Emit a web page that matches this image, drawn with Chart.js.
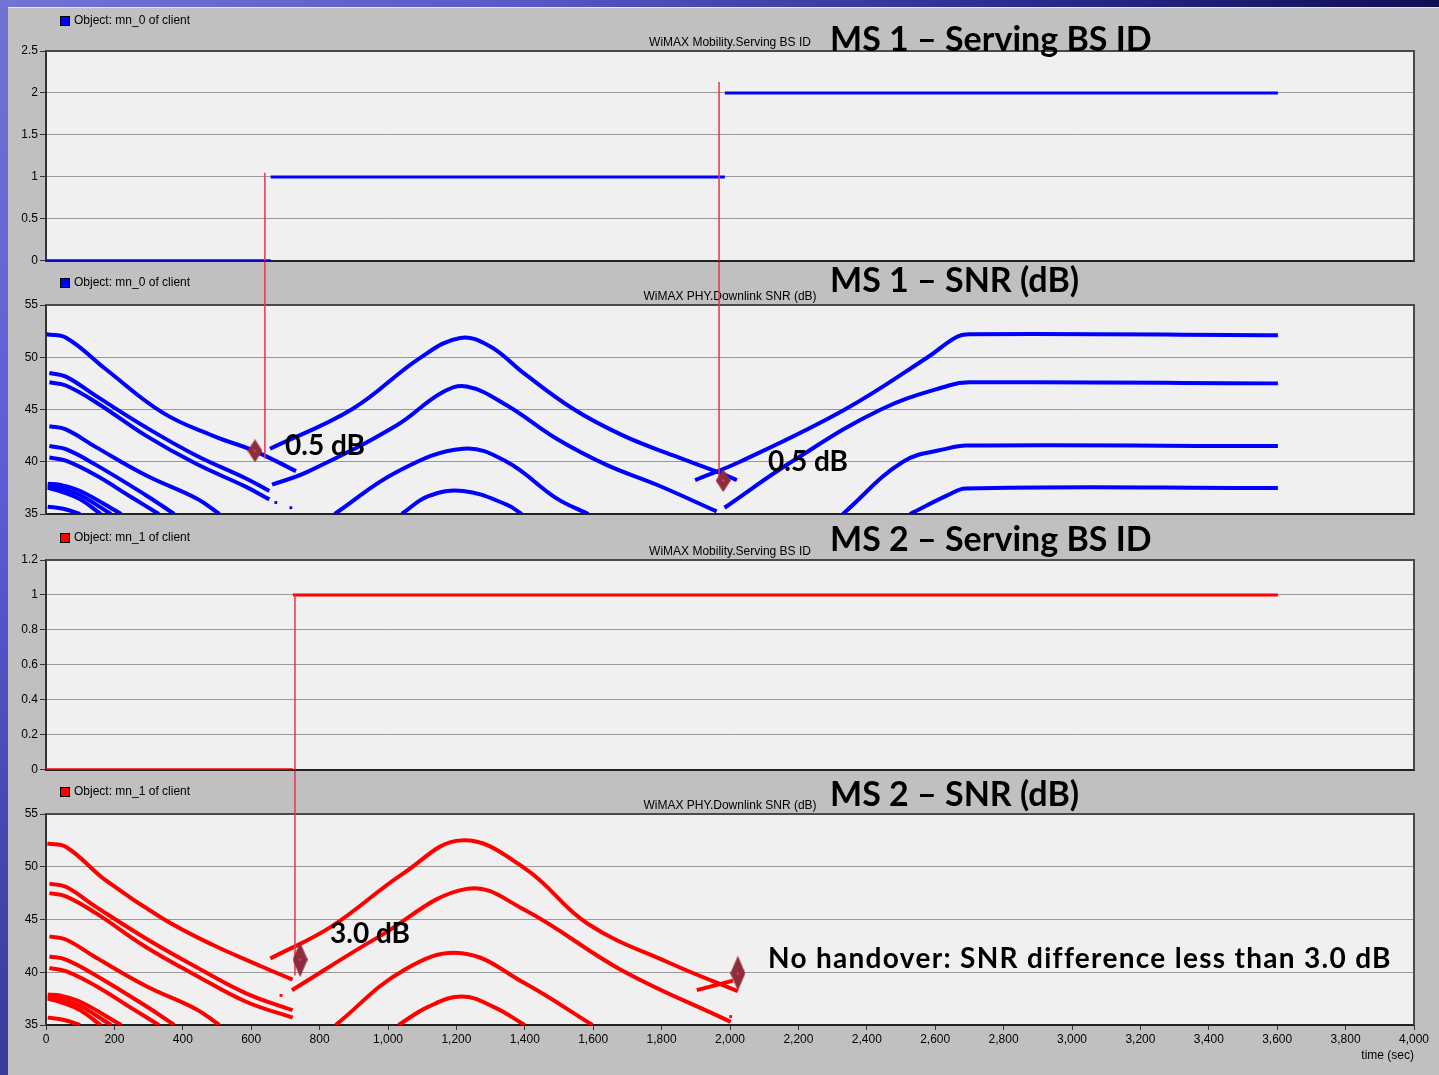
<!DOCTYPE html>
<html lang="en">

<head>
    <meta charset="UTF-8" />
    <title>WiMAX handover - serving BS ID and downlink SNR</title>
    <script src="https://cdn.jsdelivr.net/npm/chart.js@4.4.1/dist/chart.umd.min.js"></script>
    <style>
        html, body { margin: 0; padding: 0; }
        body {
            width: 1439px; height: 1075px; overflow: hidden; position: relative;
            background: linear-gradient(180deg, #7272d2 0%, #5c5cd8 45%, #4848b4 75%, #3a3a9a 100%);
        }
        .topband {
            position: absolute; left: 0; top: 0; width: 1439px; height: 7px;
            background: linear-gradient(90deg, #7474d4 0%, #5a5ac8 35%, #2c2c90 70%, #0e0e56 100%);
        }
        .sheet {
            position: absolute; left: 8px; top: 7px; right: 0; bottom: 0;
            background: #c0c0c0; border-top: 1px solid #e4e4ec;
        }
        canvas { position: absolute; left: 0; }
        .note {
            position: absolute; font-family: Lato, "Open Sans", sans-serif; color: #000;
            line-height: 1; white-space: nowrap;
        }
        .big { font-size: 34px; font-weight: 700; }
        .db { font-size: 28px; font-weight: 700; }
        .nh { font-size: 28px; font-weight: 700; letter-spacing: 1.3px; }
    </style>
</head>

<body>
    <div class="topband"></div>
    <div class="sheet"></div>
    <canvas id="ms1Bs" width="1439" height="263" style="top:7px;width:1439px;height:263px"></canvas>
    <canvas id="ms1Snr" width="1439" height="262" style="top:262px;width:1439px;height:262px"></canvas>
    <canvas id="ms2Bs" width="1439" height="263" style="top:516px;width:1439px;height:263px"></canvas>
    <canvas id="ms2Snr" width="1439" height="304" style="top:771px;width:1439px;height:304px"></canvas>

    <div class="note big" style="left:830px;top:21px">MS 1 – Serving BS ID</div>
    <div class="note big" style="left:830px;top:262px">MS 1 – SNR (dB)</div>
    <div class="note big" style="left:830px;top:521px">MS 2 – Serving BS ID</div>
    <div class="note big" style="left:830px;top:776px">MS 2 – SNR (dB)</div>
    <div class="note db" style="left:285px;top:430px">0.5 dB</div>
    <div class="note db" style="left:768px;top:446px">0.5 dB</div>
    <div class="note db" style="left:330px;top:918px">3.0 dB</div>
    <div class="note nh" style="left:768px;top:943px">No handover: SNR difference less than 3.0 dB</div>

    <script>
        // serving base station, one step per segment
        const ms1BsStart = [0, 657, 1985]
        const ms1BsEnd = [657, 1985, 3602]
        const ms1BsId = [0, 1, 2]
        const ms2BsStart = [0, 722]
        const ms2BsEnd = [722, 3602]
        const ms2BsId = [0, 1]

        // handover markers (time, where the red line starts on the BS plot, where it stops on the SNR plot)
        const ms1HandoverT = [640, 1968]
        const ms1HandoverBs = [1.05, 2.13]
        const ms1HandoverSnr = [40.3, 38.3]
        const ms2HandoverT = [728]
        const ms2HandoverBs = [1.0]
        const ms2HandoverSnr = [39.7]
        const aboveTop = 62 // red line runs up through the header

        const ms1Markers = [[611, 41.05], [1980, 38.2]]
        const ms2Markers = [[743, 41.2], [2023, 39.9]]
        const ms1Dots = [[672, 36.1], [716, 35.6]]
        const ms2Dots = [[687, 37.8], [2002, 35.8]]

        // MS 1 downlink SNR traces [time, dB]
        const ms1SnrA = [[2, 52.2], [60, 51.85], [175, 48.85], [341, 44.7], [487, 42.5], [612, 41.0], [731, 39.1]]
        const ms1SnrB = [[10, 48.5], [58, 48.15], [146, 46.3], [292, 43.3], [439, 40.6], [585, 38.4], [653, 37.2]]
        const ms1SnrC = [[10, 47.6], [58, 47.3], [146, 45.7], [292, 42.5], [439, 39.8], [585, 37.6], [653, 36.4]]
        const ms1SnrD = [[10, 43.4], [58, 43.1], [146, 41.4], [292, 38.7], [439, 36.5], [507, 35.0]]
        const ms1SnrE = [[10, 41.5], [58, 41.2], [146, 39.7], [292, 36.8], [375, 35.0]]
        const ms1SnrF = [[10, 40.4], [58, 40.1], [146, 38.7], [250, 36.6], [330, 35.0]]
        const ms1SnrG = [[5, 37.9], [40, 37.8], [100, 37.2], [220, 35.0]]
        const ms1SnrH = [[5, 37.7], [40, 37.5], [100, 36.8], [190, 35.0]]
        const ms1SnrI = [[5, 37.5], [40, 37.2], [100, 36.4], [160, 35.0]]
        const ms1SnrJ = [[5, 35.7], [50, 35.5], [100, 35.0]]
        const ms1SnrK = [[655, 41.25], [896, 45.05], [1092, 49.9], [1211, 51.85], [1298, 51.05], [1396, 48.5], [1542, 45.05], [1688, 42.5], [1834, 40.6], [1961, 39.05], [2020, 38.25]]
        const ms1SnrL = [[661, 37.8], [766, 39.05], [1026, 43.5], [1157, 46.6], [1230, 47.2], [1347, 45.4], [1493, 42.2], [1639, 39.7], [1786, 37.8], [1961, 35.25]]
        const ms1SnrM = [[844, 35.0], [1027, 39.05], [1220, 41.25], [1347, 40.0], [1493, 36.5], [1586, 35.0]]
        const ms1SnrN = [[1040, 35.0], [1118, 36.7], [1220, 37.2], [1347, 35.9], [1391, 35.0]]
        const ms1SnrO = [[1898, 38.25], [2029, 40.0], [2336, 45.0], [2578, 50.0], [2660, 51.9], [2700, 52.2], [3602, 52.1]]
        const ms1SnrP = [[1984, 35.6], [2180, 40.0], [2441, 45.0], [2640, 47.3], [2700, 47.6], [3602, 47.5]]
        const ms1SnrQ = [[2330, 35.0], [2506, 40.0], [2640, 41.3], [2690, 41.55], [3602, 41.5]]
        const ms1SnrR = [[2526, 35.0], [2637, 36.8], [2689, 37.45], [3602, 37.5]]

        // MS 2 downlink SNR traces [time, dB]
        const ms2SnrA = [[4, 52.2], [60, 51.85], [175, 48.7], [341, 45.1], [487, 42.6], [634, 40.5], [721, 39.3]]
        const ms2SnrB = [[10, 48.4], [58, 48.1], [146, 46.2], [292, 43.2], [439, 40.5], [585, 38.0], [721, 36.4]]
        const ms2SnrC = [[10, 47.5], [58, 47.2], [146, 45.6], [292, 42.4], [439, 39.7], [585, 37.2], [721, 35.7]]
        const ms2SnrD = [[10, 43.4], [58, 43.1], [146, 41.4], [292, 38.7], [439, 36.5], [507, 35.0]]
        const ms2SnrE = [[10, 41.5], [58, 41.2], [146, 39.7], [292, 36.8], [375, 35.0]]
        const ms2SnrF = [[10, 40.4], [58, 40.1], [146, 38.7], [250, 36.6], [330, 35.0]]
        const ms2SnrG = [[5, 37.9], [40, 37.8], [100, 37.2], [220, 35.0]]
        const ms2SnrH = [[5, 37.7], [40, 37.5], [100, 36.8], [190, 35.0]]
        const ms2SnrI = [[5, 37.5], [40, 37.2], [100, 36.4], [160, 35.0]]
        const ms2SnrJ = [[5, 35.7], [50, 35.5], [100, 35.0]]
        const ms2SnrK = [[656, 41.3], [833, 44.3], [1046, 49.4], [1216, 52.5], [1400, 49.85], [1584, 44.6], [1825, 40.85], [2023, 38.2]]
        const ms2SnrL = [[719, 38.3], [975, 43.4], [1230, 47.9], [1400, 45.9], [1683, 40.2], [2002, 35.3]]
        const ms2SnrM = [[847, 35.0], [1046, 40.2], [1216, 41.8], [1400, 38.95], [1598, 35.0]]
        const ms2SnrN = [[1031, 35.0], [1116, 36.7], [1216, 37.7], [1310, 36.7], [1400, 35.0]]
        const ms2SnrO = [[1903, 38.3], [2009, 39.2]]

        const ms1Snr = [ms1SnrA, ms1SnrB, ms1SnrC, ms1SnrD, ms1SnrE, ms1SnrF, ms1SnrG, ms1SnrH, ms1SnrI, ms1SnrJ,
            ms1SnrK, ms1SnrL, ms1SnrM, ms1SnrN, ms1SnrO, ms1SnrP, ms1SnrQ, ms1SnrR]
        const ms2Snr = [ms2SnrA, ms2SnrB, ms2SnrC, ms2SnrD, ms2SnrE, ms2SnrF, ms2SnrG, ms2SnrH, ms2SnrI, ms2SnrJ,
            ms2SnrK, ms2SnrL, ms2SnrM, ms2SnrN, ms2SnrO]

        const blue = '#0000ff'
        const red = '#ff0000'
        const markerRed = '#e8354f'
        const smallFont = '12px "Liberation Sans", Arial, sans-serif'

        Chart.defaults.font.family = '"Liberation Sans", Arial, sans-serif'
        Chart.defaults.font.size = 12
        Chart.defaults.color = '#000'

        function diamond(w, h) {
            const c = document.createElement('canvas')
            c.width = w
            c.height = h
            const g = c.getContext('2d')
            g.fillStyle = '#8e2c3c'
            g.beginPath()
            g.moveTo(w / 2, 0)
            g.lineTo(w, h / 2)
            g.lineTo(w / 2, h)
            g.lineTo(0, h / 2)
            g.closePath()
            g.fill()
            g.fillStyle = '#e04868'
            g.fillRect(w / 2 - 1, h / 2 - 1, 2, 2)
            return c
        }

        // plot background, frame, legend swatch and small title
        const decor = {
            id: 'decor',
            beforeDraw(chart, args, o) {
                const { ctx, chartArea: a } = chart
                ctx.save()
                ctx.fillStyle = '#f0f0f0'
                ctx.fillRect(a.left, a.top, a.right - a.left, a.bottom - a.top)
                ctx.restore()
            },
            beforeDatasetsDraw(chart, args, o) {
                const { ctx, chartArea: a } = chart
                ctx.save()
                ctx.strokeStyle = '#4a4a4a'
                ctx.lineWidth = 2
                ctx.beginPath()
                ctx.moveTo(a.left, a.top)
                ctx.lineTo(a.right, a.top)
                ctx.lineTo(a.right, a.bottom)
                ctx.stroke()

                const ly = a.top + o.legendDy
                ctx.fillStyle = o.color
                ctx.fillRect(61, ly - 4, 8, 8)
                ctx.strokeStyle = '#000'
                ctx.lineWidth = 1
                ctx.strokeRect(60.5, ly - 4.5, 9, 9)
                ctx.fillStyle = '#000'
                ctx.font = smallFont
                ctx.textBaseline = 'middle'
                ctx.textAlign = 'left'
                ctx.fillText(o.legend, 74, ly)
                ctx.textAlign = 'center'
                ctx.fillText(o.title, (a.left + a.right) / 2, a.top - 8)
                ctx.restore()
            }
        }

        function traces(list, color) {
            return list.map(pts => ({
                data: pts,
                borderColor: color,
                borderWidth: 4,
                pointRadius: 0,
                tension: 0.4,
                clip: 0
            }))
        }

        function steps(starts, ends, ids, color) {
            const pts = []
            starts.forEach((s, i) => {
                pts.push([s, ids[i]], [ends[i], ids[i]], [ends[i], null])
            })
            return { data: pts, borderColor: color, borderWidth: 3, pointRadius: 0, spanGaps: false }
        }

        function handover(times, from, to) {
            return times.map((t, i) => ({
                data: [[t, from[i]], [t, to[i]]],
                borderColor: markerRed,
                borderWidth: 1.5,
                pointRadius: 0,
                clip: false
            }))
        }

        function points(pts, style, color, r) {
            return {
                data: pts, showLine: false, pointStyle: style, pointRadius: r,
                pointBackgroundColor: color, pointBorderWidth: 0, clip: false
            }
        }

        function xScale(showTime) {
            return {
                type: 'linear', min: 0, max: 4000,
                ticks: {
                    display: showTime, stepSize: 200, autoSkip: false, maxRotation: 0, padding: 2,
                    callback: v => v.toLocaleString('en-US')
                },
                grid: { display: showTime, drawOnChartArea: false, tickLength: 5, tickColor: '#333' },
                border: { color: '#222', width: 2 },
                title: {
                    display: showTime, text: 'time (sec)', align: 'end',
                    font: { size: 12 }, padding: { top: 0, bottom: 12 }
                },
                afterFit: s => { s.height = showTime ? 50 : 0 }
            }
        }

        function yScale(min, max, step) {
            return {
                type: 'linear', min: min, max: max,
                ticks: { stepSize: step, padding: 2, callback: v => String(Math.round(v * 10) / 10) },
                grid: { color: '#999', lineWidth: 1, tickLength: 6, tickColor: '#333' },
                border: { color: '#333', width: 2 },
                afterFit: s => { s.width = 46 }
            }
        }

        function makePanel(id, cfg) {
            return new Chart(document.getElementById(id), {
                type: 'line',
                data: { datasets: cfg.datasets },
                plugins: [decor],
                options: {
                    responsive: false,
                    animation: false,
                    events: [],
                    layout: { padding: { top: cfg.top, right: 25, bottom: cfg.bottom, left: 0 } },
                    plugins: {
                        legend: { display: false },
                        tooltip: { enabled: false },
                        decor: { color: cfg.color, legend: cfg.legend, title: cfg.title, legendDy: cfg.legendDy }
                    },
                    scales: { x: xScale(cfg.showTime), y: yScale(cfg.min, cfg.max, cfg.step) }
                }
            })
        }

        const smallDiamond = diamond(15, 23)
        const tallDiamond = diamond(15, 35)

        makePanel('ms1Bs', {
            top: 44, bottom: 8, legendDy: -30, color: blue, showTime: false,
            legend: 'Object: mn_0 of client', title: 'WiMAX Mobility.Serving BS ID',
            min: 0, max: 2.5, step: 0.5,
            datasets: [
                ...handover(ms1HandoverT, ms1HandoverBs, ms1HandoverT.map(() => 0)),
                steps(ms1BsStart, ms1BsEnd, ms1BsId, blue)
            ]
        })

        makePanel('ms1Snr', {
            top: 43, bottom: 8, legendDy: -22, color: blue, showTime: false,
            legend: 'Object: mn_0 of client', title: 'WiMAX PHY.Downlink SNR (dB)',
            min: 35, max: 55, step: 5,
            datasets: [
                points(ms1Markers, smallDiamond, '#8e2c3c', 10),
                ...handover(ms1HandoverT, ms1HandoverT.map(() => aboveTop), ms1HandoverSnr),
                points(ms1Dots, 'rect', blue, 2),
                ...traces(ms1Snr, blue)
            ]
        })

        makePanel('ms2Bs', {
            top: 44, bottom: 8, legendDy: -22, color: red, showTime: false,
            legend: 'Object: mn_1 of client', title: 'WiMAX Mobility.Serving BS ID',
            min: 0, max: 1.2, step: 0.2,
            datasets: [
                ...handover(ms2HandoverT, ms2HandoverBs, ms2HandoverT.map(() => 0)),
                steps(ms2BsStart, ms2BsEnd, ms2BsId, red)
            ]
        })

        makePanel('ms2Snr', {
            top: 43, bottom: 0, legendDy: -22, color: red, showTime: true,
            legend: 'Object: mn_1 of client', title: 'WiMAX PHY.Downlink SNR (dB)',
            min: 35, max: 55, step: 5,
            datasets: [
                points(ms2Markers, tallDiamond, '#8e2c3c', 10),
                ...handover(ms2HandoverT, ms2HandoverT.map(() => aboveTop), ms2HandoverSnr),
                points(ms2Dots, 'rect', red, 2),
                ...traces(ms2Snr, red)
            ]
        })
    </script>
</body>

</html>
